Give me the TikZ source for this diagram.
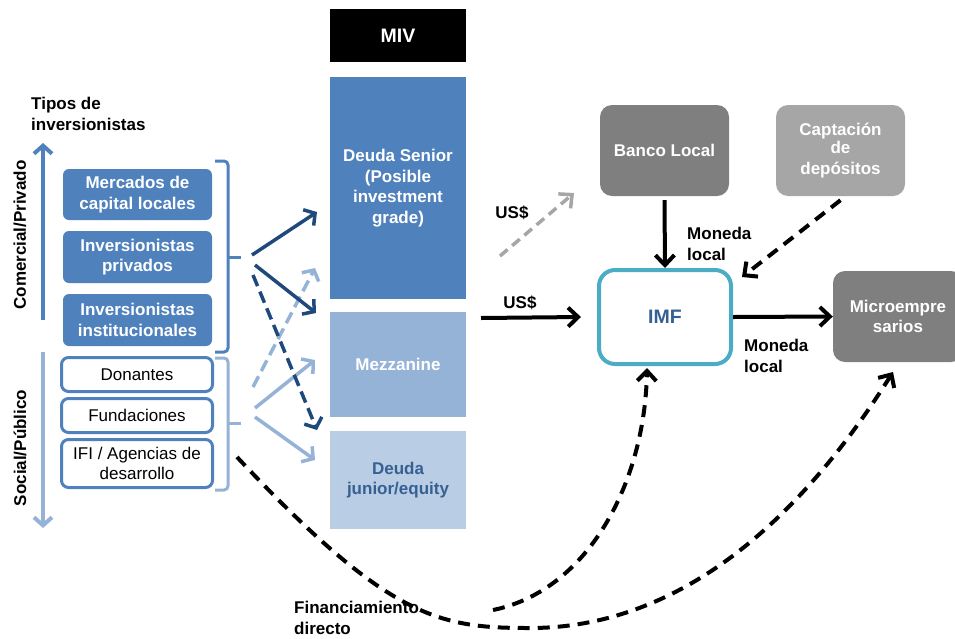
\documentclass[tikz,border=0pt]{standalone}
\usepackage{fontspec}
\setmainfont{Liberation Sans}
\usetikzlibrary{arrows.meta}

\definecolor{midblue}{HTML}{4F81BD}
\definecolor{paleblue}{HTML}{95B3D7}
\definecolor{palerblue}{HTML}{B9CDE5}
\definecolor{navy}{HTML}{1F497D}
\definecolor{tealline}{HTML}{4BACC6}
\definecolor{darkgrey}{HTML}{7F7F7F}
\definecolor{lightgrey}{HTML}{A6A6A6}
\definecolor{labelblue}{HTML}{376092}

\newcommand\txt{\fontsize{17}{20.5}\selectfont}
\newcommand\bigtxt{\fontsize{19.5}{22}\selectfont}

\begin{document}
\begin{tikzpicture}[x=1pt,y=-1pt,
  lbl/.style={font=\txt\bfseries, align=left, inner sep=0pt},
  investor/.style={fill=midblue, rounded corners=6pt, text=white, font=\txt\bfseries,
    align=center, inner sep=0pt, minimum width=149pt},
  donor/.style={draw=midblue, line width=3pt, fill=white, rounded corners=7pt, font=\txt,
    align=center, inner sep=0pt, minimum width=151pt},
  tranche/.style={minimum width=136pt, inner sep=0pt, align=center, font=\txt\bfseries},
  actor/.style={rounded corners=12pt, inner sep=0pt, align=center, font=\txt\bfseries,
    text=white, minimum width=129pt, minimum height=91pt},
  brace/.style={line width=3pt, rounded corners=4pt},
  flow/.style={line width=3.5pt, -{Straight Barb[length=8pt,width=19pt]}},
  flowdash/.style={flow, dash pattern=on 12pt off 6pt},
  blk/.style={black, line width=4pt, -{Straight Barb[length=10pt,width=19pt]}},
  blkdash/.style={blk, dash pattern=on 12pt off 8pt},
  sidearrow/.style={line width=4pt, -{Straight Barb[length=8pt,width=18pt]}}
]
\clip (0,0) rectangle (955,638);

% heading and the commercial / social axis
\node[lbl, anchor=north west] (tipos) at (31,97) {Tipos de\\inversionistas};
\node[lbl, rotate=90] (comercial) at (20,235) {Comercial/Privado};
\node[lbl, rotate=90] (social) at (20,448) {Social/Público};
\coordinate (upbase) at (43,320);
\coordinate (uptip) at (43,143);
\coordinate (downbase) at (43,352);
\coordinate (downtip) at (43,528);
\draw[sidearrow, midblue] (upbase) -- (uptip);
\draw[sidearrow, paleblue] (downbase) -- (downtip);

% investor types
\node[investor, minimum height=51pt] (mercados) at (137.5,194.5) {Mercados de\\capital locales};
\node[investor, minimum height=52pt] (privados) at (137.5,257) {Inversionistas\\privados};
\node[investor, minimum height=52pt] (institucionales) at (137.5,320) {Inversionistas\\institucionales};
\node[donor, minimum height=34pt] (donantes) at (137,374.5) {Donantes};
\node[donor, minimum height=34pt] (fundaciones) at (137,415.5) {Fundaciones};
\node[donor, minimum height=48pt] (ifi) at (137,463.5) {IFI / Agencias de\\desarrollo};

% grouping braces
\draw[brace, midblue] (215,161) -- (228,161) -- (228,352) -- (215,352);
\draw[line width=3pt, midblue] (228,257) -- (241,257);
\draw[brace, paleblue] (215,358) -- (228,358) -- (228,490) -- (215,490);
\draw[line width=3pt, paleblue] (228,423) -- (241,423);

% MIV tranches
\node[tranche, fill=black, text=white, font=\bigtxt\bfseries, minimum height=53pt] (miv) at (398,35.5) {MIV};
\node[tranche, fill=midblue, text=white, minimum height=222pt] (senior) at (398,188) {Deuda Senior\\(Posible\\investment\\grade)};
\node[tranche, fill=paleblue, text=white, minimum height=105pt] (mezz) at (398,364.5) {Mezzanine};
\node[tranche, fill=palerblue, text=labelblue, minimum height=98pt] (junior) at (398,480) {Deuda\\junior/equity};

% flows from the investor groups into the tranches
\coordinate (soc1s) at (253,387); \coordinate (soc1e) at (315,268);
\coordinate (soc2s) at (255,408); \coordinate (soc2e) at (315,360);
\coordinate (soc3s) at (255,417); \coordinate (soc3e) at (315,460);
\coordinate (com1s) at (252,255); \coordinate (com1e) at (317,212);
\coordinate (com2s) at (255,265); \coordinate (com2e) at (316,313);
\coordinate (com3s) at (253,275); \coordinate (com3e) at (317,430);
\draw[flowdash, paleblue] (soc1s) -- (soc1e);
\draw[flow, paleblue] (soc2s) -- (soc2e);
\draw[flow, paleblue] (soc3s) -- (soc3e);
\draw[flow, navy] (com1s) -- (com1e);
\draw[flow, navy] (com2s) -- (com2e);
\draw[flowdash, navy] (com3s) -- (com3e);

% local actors
\node[actor, fill=darkgrey] (banco) at (664.5,150.5) {\raisebox{-2pt}{Banco Local}};
\node[actor, fill=lightgrey] (captacion) at (840.5,150.5) {\raisebox{-2pt}{Captación}\\de\\depósitos};
\node[draw=tealline, line width=4pt, fill=white, rounded corners=16pt, minimum width=132pt,
  minimum height=94pt, font=\bigtxt\bfseries, text=labelblue] (imf) at (665,317) {IMF};
\node[actor, fill=darkgrey, minimum width=130pt] (micro) at (898,316.5) {Microempre\\sarios};

% currency flows
\coordinate (greys) at (500,256);
\coordinate (greye) at (574,193);
\draw[blk, lightgrey, line width=3.5pt, dash pattern=on 10pt off 6pt] (greys) -- (greye);
\node[lbl] (usdgrey) at (512,213) {US\$};
\coordinate (usdin) at (481,318);
\draw[blk] (usdin) -- ([xshift=-16pt]imf.west);
\node[lbl] (usdblack) at (520,303) {US\$};
\draw[blk] ([yshift=-4pt]banco.south) -- (imf.north);
\node[lbl, anchor=north west] (moneda1) at (687,227) {Moneda\\local};
\coordinate (depin) at (742,277);
\draw[blkdash] ([yshift=-4pt]captacion.south) -- (depin);
\draw[blk] (imf.east) -- (micro.west);
\node[lbl, anchor=north west] (moneda2) at (744,339) {Moneda\\local};

% direct financing
\coordinate (ifiout) at (237,457);
\coordinate (split) at (493,610);
\coordinate (imfin) at (647,368);
\coordinate (microin) at (893,372);
\draw[blkdash] (ifiout) .. controls (390,620) and (440,628) .. (530,628)
  .. controls (680,628) and (800,520) .. (microin);
\draw[blkdash] (split) .. controls (590,590) and (645,480) .. (imfin);
\node[lbl, anchor=north west] (directo) at (294,601) {Financiamiento\\directo};
\end{tikzpicture}
\end{document}
